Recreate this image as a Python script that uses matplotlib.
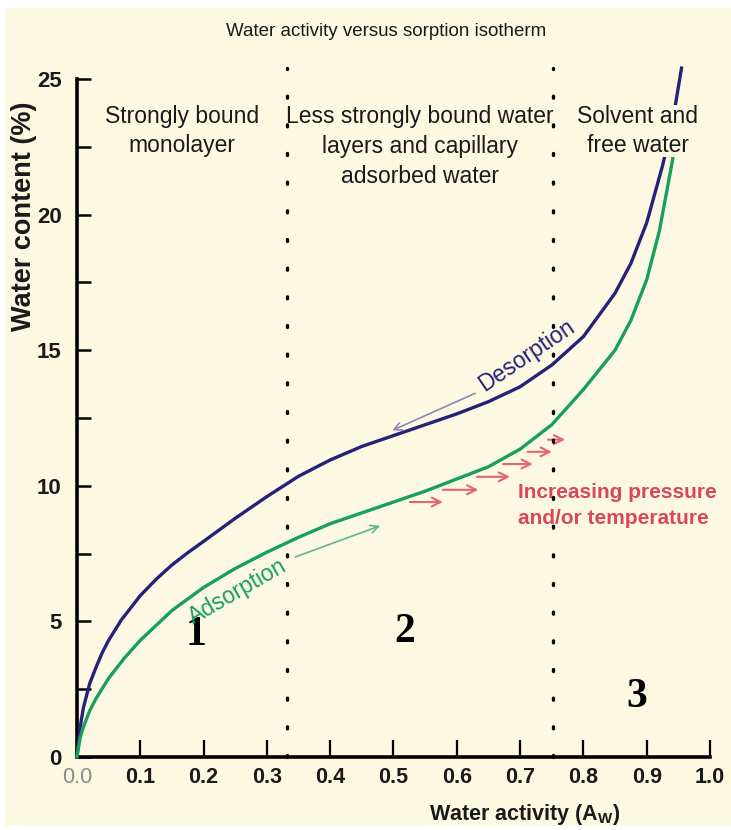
import matplotlib
matplotlib.use("Agg")
import matplotlib.pyplot as plt
from matplotlib.patches import Rectangle
from matplotlib.ticker import MultipleLocator

# Values
aw_desorption = [0, 0.005, 0.01, 0.02, 0.03, 0.04, 0.05, 0.07, 0.1, 0.125, 0.15,
                 0.175, 0.2, 0.25, 0.3, 0.35, 0.4, 0.45, 0.5, 0.55, 0.6, 0.65,
                 0.7, 0.75, 0.8, 0.85, 0.875, 0.9, 0.925, 0.94, 0.955]
wc_desorption = [0, 1.1, 1.8, 2.7, 3.3, 3.85, 4.3, 5.05, 5.95, 6.55, 7.08,
                 7.53, 7.95, 8.8, 9.6, 10.35, 10.95, 11.45, 11.85, 12.25, 12.65, 13.1,
                 13.65, 14.45, 15.5, 17.1, 18.2, 19.7, 21.8, 23.3, 25.4]

aw_adsorption = [0, 0.005, 0.01, 0.02, 0.03, 0.05, 0.075, 0.1, 0.15, 0.2, 0.25,
                 0.3, 0.35, 0.4, 0.45, 0.5, 0.55, 0.6, 0.65, 0.7, 0.75, 0.8,
                 0.85, 0.875, 0.9, 0.92, 0.94, 0.95]
wc_adsorption = [0, 0.7, 1.1, 1.7, 2.15, 2.9, 3.65, 4.3, 5.4, 6.25, 6.95,
                 7.55, 8.1, 8.6, 9.0, 9.4, 9.8, 10.25, 10.7, 11.35, 12.25, 13.55,
                 15.0, 16.1, 17.6, 19.4, 21.9, 23.5]

region_bounds = [0.332, 0.752]
region_labels = ["Strongly bound\nmonolayer",
                 "Less strongly bound water\nlayers and capillary\nadsorbed water",
                 "Solvent and\nfree water"]
region_label_x = [0.166, 0.542, 0.886]
region_label_y = [23.08, 22.5, 23.08]
region_numbers = ["1", "2", "3"]
region_number_pos = [(0.188, 4.5), (0.518, 4.6), (0.885, 2.2)]

# small red arrows (start aw, end aw, water content)
pressure_arrows = [(0.526, 0.578, 9.4), (0.578, 0.634, 9.85), (0.632, 0.684, 10.33),
                   (0.673, 0.720, 10.8), (0.712, 0.750, 11.25), (0.744, 0.771, 11.7)]

xticks = [0.0, 0.1, 0.2, 0.3, 0.4, 0.5, 0.6, 0.7, 0.8, 0.9, 1.0]

bg = "#fdf8e2"
navy = "#24227a"
green = "#17a05a"
red = "#d8475a"
ink = "#1a1a1a"

plt.rcParams["font.family"] = ["Liberation Sans", "DejaVu Sans"]

fig = plt.figure(figsize=(7.31, 8.30), dpi=100, facecolor="white")
fig.patches.append(Rectangle((5 / 731, 4 / 830), 1, 1 - 12 / 830,
                             transform=fig.transFigure, facecolor=bg,
                             edgecolor="none", zorder=-10))
ax = fig.add_axes([0.1053, 0.088, 0.866, 0.8169], facecolor=bg)

ax.plot(aw_desorption, wc_desorption, color=navy, lw=2.4, clip_on=False, zorder=3,
        solid_joinstyle="round")
ax.plot(aw_adsorption, wc_adsorption, color=green, lw=2.4, clip_on=False, zorder=3,
        solid_joinstyle="round")

for xb in region_bounds:
    ax.plot([xb, xb], [0, 25.4], color="black", lw=2.4,
            linestyle=(0, (0.6, 8.0)), dash_capstyle="round", clip_on=False, zorder=6)

for lab, lx, ly in zip(region_labels, region_label_x, region_label_y):
    ax.text(lx, ly, lab, ha="center", va="center", fontsize=16.5, color=ink,
            linespacing=1.38, zorder=5,
            bbox=dict(facecolor=bg, edgecolor="none", pad=0.0))

for num, (nx, ny) in zip(region_numbers, region_number_pos):
    ax.text(nx, ny, num, ha="center", va="center", fontsize=30, fontweight="bold",
            family=["Liberation Serif", "DejaVu Serif"], color="black", zorder=5)

# Desorption / Adsorption labels with their arrows
ax.text(0.711, 14.8, "Desorption", rotation=34, ha="center", va="center",
        fontsize=16.5, color=navy, rotation_mode="anchor", zorder=5)
ax.annotate("", xy=(0.494, 12.0), xytext=(0.633, 13.45),
            arrowprops=dict(arrowstyle="->", color="#8a88b8", lw=1.2,
                            mutation_scale=14))
ax.text(0.253, 6.1, "Adsorption", rotation=30, ha="center", va="center",
        fontsize=16.5, color=green, rotation_mode="anchor", zorder=5)
ax.annotate("", xy=(0.483, 8.56), xytext=(0.341, 7.34),
            arrowprops=dict(arrowstyle="->", color="#5cb88a", lw=1.2,
                            mutation_scale=14))

for x0, x1, yv in pressure_arrows:
    ax.annotate("", xy=(x1, yv), xytext=(x0, yv),
                arrowprops=dict(arrowstyle="->", color="#e6636f", lw=1.5,
                                mutation_scale=16, shrinkA=0, shrinkB=0))
ax.text(0.697, 9.28, "Increasing pressure\nand/or temperature", ha="left", va="center",
        fontsize=15, fontweight="bold", color=red, linespacing=1.5, zorder=5)

ax.set_xlim(0, 1.0)
ax.set_ylim(0, 25)
ax.set_xticks(xticks)
ax.set_xticklabels([f"{t:.1f}" for t in xticks])
ax.yaxis.set_major_locator(MultipleLocator(5))
ax.yaxis.set_minor_locator(MultipleLocator(2.5))
ax.tick_params(axis="x", direction="in", length=12, width=1.6, pad=7,
               labelsize=15.5)
ax.tick_params(axis="y", which="both", direction="in", length=10, width=1.8,
               pad=11, labelsize=16)
for lbl in ax.get_xticklabels() + ax.get_yticklabels():
    lbl.set_fontweight("bold")
    lbl.set_color(ink)
ax.get_xticklabels()[0].set_color("#8a8a8a")
ax.get_xticklabels()[0].set_fontweight("normal")

for side in ["top", "right"]:
    ax.spines[side].set_visible(False)
for side in ["left", "bottom"]:
    ax.spines[side].set_linewidth(2.6)
    ax.spines[side].set_color("black")

fig.text(24 / 731, 1 - 216 / 830, "Water content (%)", rotation=90, ha="center",
         va="center", fontsize=19.5, fontweight="bold", color=ink)
fig.text(525 / 731, 1 - 814 / 830, r"Water activity (A$_\mathregular{W}$)",
         ha="center", va="center", fontsize=15.5, fontweight="bold", color=ink)
fig.text(386 / 731, 1 - 32 / 830, "Water activity versus sorption isotherm",
         ha="center", va="center", fontsize=13.5, color=ink)

fig.savefig("out.png", dpi=100, facecolor="white")
